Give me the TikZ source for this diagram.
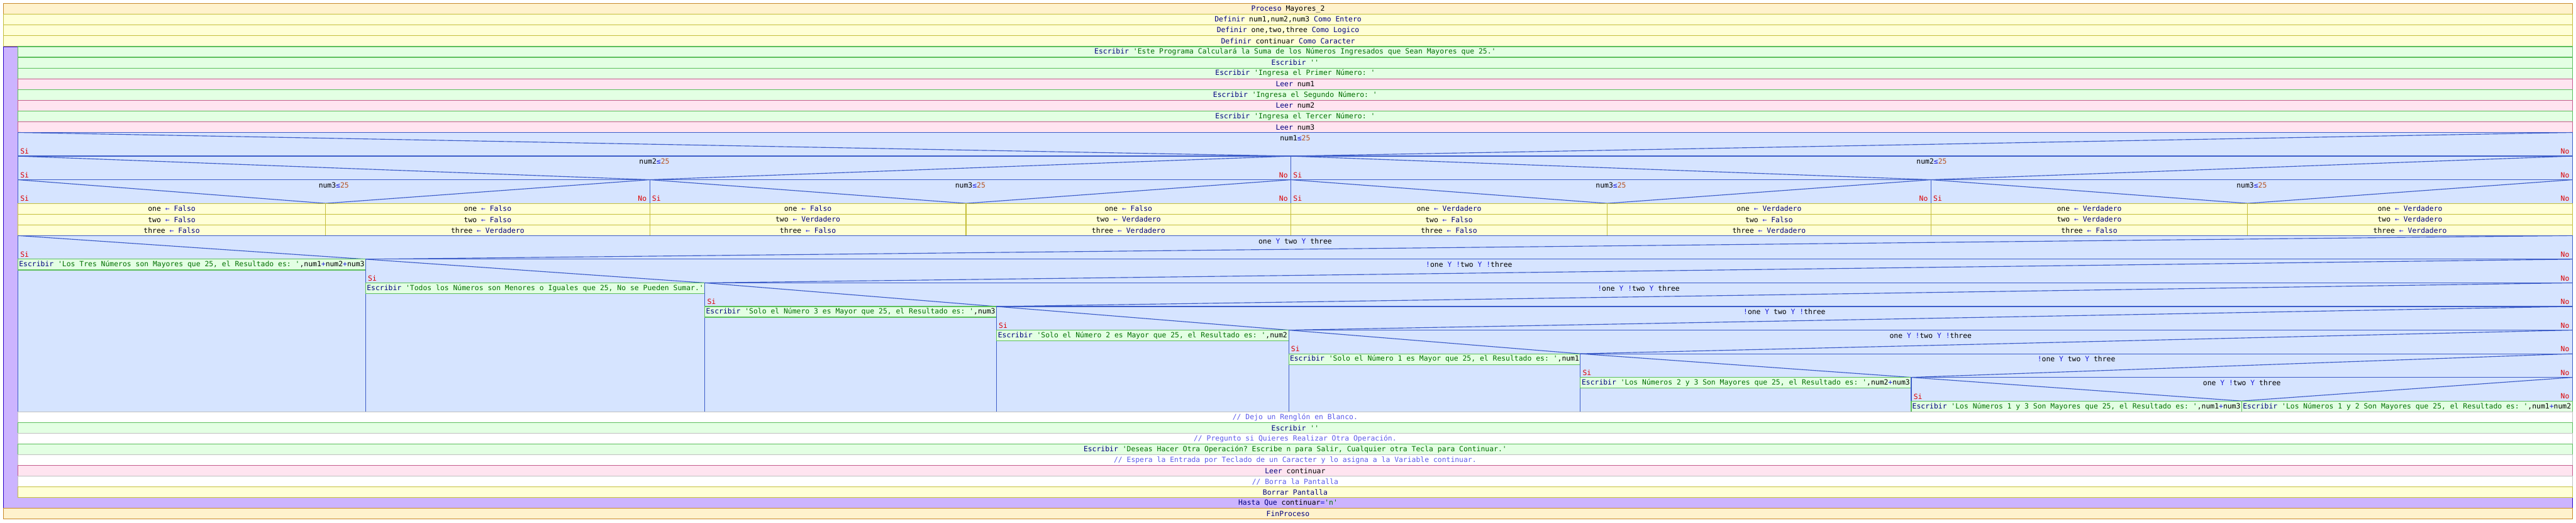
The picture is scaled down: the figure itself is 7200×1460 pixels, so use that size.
\documentclass[tikz,border=0pt]{standalone}
\usepackage{fontspec}
\setmonofont{DejaVu Sans Mono}
\usetikzlibrary{calc}
\definecolor{procfill}{RGB}{255,242,204}
\definecolor{procline}{RGB}{200,136,42}
\definecolor{deffill}{RGB}{255,255,214}
\definecolor{defline}{RGB}{196,190,60}
\definecolor{escfill}{RGB}{227,255,227}
\definecolor{escline}{RGB}{92,190,92}
\definecolor{leefill}{RGB}{255,228,240}
\definecolor{leeline}{RGB}{196,92,140}
\definecolor{condfill}{RGB}{214,228,255}
\definecolor{condline}{RGB}{60,92,200}
\definecolor{repfill}{RGB}{204,180,255}
\definecolor{repline}{RGB}{40,0,200}
\definecolor{commline}{RGB}{192,192,192}
\definecolor{kwcol}{RGB}{0,0,128}
\definecolor{strcol}{RGB}{0,110,0}
\definecolor{numcol}{RGB}{180,80,30}
\definecolor{opcol}{RGB}{30,30,220}
\definecolor{commcol}{RGB}{90,90,235}
\definecolor{sinocol}{RGB}{220,0,0}
\newcommand\pk[1]{\textcolor{kwcol}{#1}}
\newcommand\ps[1]{\textcolor{strcol}{#1}}
\newcommand\pn[1]{\textcolor{numcol}{#1}}
\newcommand\po[1]{\textcolor{opcol}{#1}}
\newcommand\pc[1]{\textcolor{commcol}{#1}}
\tikzset{
  nstext/.style={font=\ttfamily\fontsize{5.7}{7}\selectfont, inner sep=0pt},
  proc/.style={fill=procfill, draw=procline, line width=0.57pt},
  defi/.style={fill=deffill, draw=defline, line width=0.57pt},
  esc/.style={fill=escfill, draw=escline, line width=0.57pt},
  lee/.style={fill=leefill, draw=leeline, line width=0.57pt},
  comm/.style={fill=white, draw=commline, line width=0.57pt},
  cond/.style={fill=condfill, draw=condline, line width=0.57pt},
  diag/.style={draw=condline, line width=0.57pt},
  branchline/.style={draw=condline, line width=0.3pt},
  repite/.style={fill=repfill, draw=repline, line width=0.3pt},
  sino/.style={nstext, text=sinocol}
}
% box: style, x1, y1, x2, y2, text, name
\newcommand\nsbox[7]{%
  \draw[#1] (#2,#3) rectangle (#4,#5);
  \node[nstext] (#7) at ({(#2+#4)/2},{(#3+#5)/2}) {#6};}
% if block: name, left, split, right, top, bottom, condition
\newcommand\nsif[7]{%
  \draw[cond] (#2,#5) rectangle (#4,#6);
  \draw[diag] (#2,#5+66) -- (#4,#5+66);
  \draw[diag] (#2,#5) -- (#3,#5+66) -- (#4,#5);
  \draw[branchline] (#3,#5+66) -- (#3,#6);
  \node[nstext] (#1) at ({(#2+#4)/2},#5+15) {#7};
  \node[sino, anchor=west] (#1si) at (#2+6,#5+53) {Si};
  \node[sino, anchor=east] (#1no) at (#4-8,#5+53) {No};}

\begin{document}
\begin{tikzpicture}[x=0.01cm, y=-0.01cm]
\useasboundingbox (0,0) rectangle (7200,1460);
\nsbox{proc}{10}{10}{7190}{40}{\pk{Proceso} Mayores\_2}{proceso}
\nsbox{defi}{10}{40}{7190}{70}{\pk{Definir} num1,num2,num3 \pk{Como Entero}}{defnum}
\nsbox{defi}{10}{70}{7190}{100}{\pk{Definir} one,two,three \pk{Como Logico}}{deflog}
\nsbox{defi}{10}{100}{7190}{130}{\pk{Definir} continuar \pk{Como Caracter}}{defcar}
\draw[repite] (10,130) -- (50,130) -- (50,1390) -- (7190,1390) -- (7190,1420) -- (10,1420) -- cycle;

\nsbox{esc}{50}{130}{7190}{160}{\pk{Escribir} \ps{'Este Programa Calculará la Suma de los Números Ingresados que Sean Mayores que 25.'}}{intro}
\nsbox{esc}{50}{160}{7190}{190}{\pk{Escribir} \ps{''}}{blankA}
\nsbox{esc}{50}{190}{7190}{220}{\pk{Escribir} \ps{'Ingresa el Primer Número: '}}{askA}
\nsbox{lee}{50}{220}{7190}{250}{\pk{Leer} num1}{readA}
\nsbox{esc}{50}{250}{7190}{280}{\pk{Escribir} \ps{'Ingresa el Segundo Número: '}}{askB}
\nsbox{lee}{50}{280}{7190}{310}{\pk{Leer} num2}{readB}
\nsbox{esc}{50}{310}{7190}{340}{\pk{Escribir} \ps{'Ingresa el Tercer Número: '}}{askC}
\nsbox{lee}{50}{340}{7190}{370}{\pk{Leer} num3}{readC}

\nsif{numA}{50}{3608}{7190}{370}{658}{num1\po{≤}\pn{25}}
\nsif{numB}{50}{1816}{3608}{436}{658}{num2\po{≤}\pn{25}}
\nsif{numC}{3608}{5397}{7190}{436}{658}{num2\po{≤}\pn{25}}
\nsif{numD}{50}{910}{1816}{502}{658}{num3\po{≤}\pn{25}}
\nsif{numE}{1816}{2700}{3608}{502}{658}{num3\po{≤}\pn{25}}
\nsif{numF}{3608}{4492}{5397}{502}{658}{num3\po{≤}\pn{25}}
\nsif{numG}{5397}{6282}{7190}{502}{658}{num3\po{≤}\pn{25}}
\foreach \xa/\xb/\va/\vb/\vc [count=\i] in {50/910/Falso/Falso/Falso, 910/1816/Falso/Falso/Verdadero, 1816/2700/Falso/Verdadero/Falso, 2700/3608/Falso/Verdadero/Verdadero, 3608/4492/Verdadero/Falso/Falso, 4492/5397/Verdadero/Falso/Verdadero, 5397/6282/Verdadero/Verdadero/Falso, 6282/7190/Verdadero/Verdadero/Verdadero}{
  \nsbox{defi}{\xa}{568}{\xb}{598}{one \po{←} \pk{\va}}{one\i}
  \nsbox{defi}{\xa}{598}{\xb}{628}{two \po{←} \pk{\vb}}{two\i}
  \nsbox{defi}{\xa}{628}{\xb}{658}{three \po{←} \pk{\vc}}{three\i}
}

\nsif{chkA}{50}{1022}{7190}{658}{1150}{one \po{Y} two \po{Y} three}
\nsbox{esc}{50}{724}{1022}{754}{\pk{Escribir} \ps{'Los Tres Números son Mayores que 25, el Resultado es: '},num1\po{+}num2\po{+}num3}{resA}
\nsif{chkB}{1022}{1970}{7190}{724}{1150}{\po{!}one \po{Y} \po{!}two \po{Y} \po{!}three}
\nsbox{esc}{1022}{790}{1970}{820}{\pk{Escribir} \ps{'Todos los Números son Menores o Iguales que 25, No se Pueden Sumar.'}}{resB}
\nsif{chkC}{1970}{2785}{7190}{790}{1150}{\po{!}one \po{Y} \po{!}two \po{Y} three}
\nsbox{esc}{1970}{856}{2785}{886}{\pk{Escribir} \ps{'Solo el Número 3 es Mayor que 25, el Resultado es: '},num3}{resC}
\nsif{chkD}{2785}{3602}{7190}{856}{1150}{\po{!}one \po{Y} two \po{Y} \po{!}three}
\nsbox{esc}{2785}{922}{3602}{952}{\pk{Escribir} \ps{'Solo el Número 2 es Mayor que 25, el Resultado es: '},num2}{resD}
\nsif{chkE}{3602}{4417}{7190}{922}{1150}{one \po{Y} \po{!}two \po{Y} \po{!}three}
\nsbox{esc}{3602}{988}{4417}{1018}{\pk{Escribir} \ps{'Solo el Número 1 es Mayor que 25, el Resultado es: '},num1}{resE}
\nsif{chkF}{4417}{5342}{7190}{988}{1150}{\po{!}one \po{Y} two \po{Y} three}
\nsbox{esc}{4417}{1054}{5342}{1084}{\pk{Escribir} \ps{'Los Números 2 y 3 Son Mayores que 25, el Resultado es: '},num2\po{+}num3}{resF}
\nsif{chkG}{5342}{6265}{7190}{1054}{1150}{one \po{Y} \po{!}two \po{Y} three}
\nsbox{esc}{5342}{1120}{6265}{1150}{\pk{Escribir} \ps{'Los Números 1 y 3 Son Mayores que 25, el Resultado es: '},num1\po{+}num3}{resG}
\nsbox{esc}{6265}{1120}{7190}{1150}{\pk{Escribir} \ps{'Los Números 1 y 2 Son Mayores que 25, el Resultado es: '},num1\po{+}num2}{resH}

\nsbox{comm}{50}{1150}{7190}{1180}{\pc{// Dejo un Renglón en Blanco.}}{commA}
\nsbox{esc}{50}{1180}{7190}{1210}{\pk{Escribir} \ps{''}}{blankB}
\nsbox{comm}{50}{1210}{7190}{1240}{\pc{// Pregunto si Quieres Realizar Otra Operación.}}{commB}
\nsbox{esc}{50}{1240}{7190}{1270}{\pk{Escribir} \ps{'Deseas Hacer Otra Operación? Escribe n para Salir, Cualquier otra Tecla para Continuar.'}}{askD}
\nsbox{comm}{50}{1270}{7190}{1300}{\pc{// Espera la Entrada por Teclado de un Caracter y lo asigna a la Variable continuar.}}{commC}
\nsbox{lee}{50}{1300}{7190}{1330}{\pk{Leer} continuar}{readD}
\nsbox{comm}{50}{1330}{7190}{1360}{\pc{// Borra la Pantalla}}{commD}
\nsbox{defi}{50}{1360}{7190}{1390}{\pk{Borrar Pantalla}}{borrar}
\node[nstext] (hasta) at (3600,1405) {\pk{Hasta Que} continuar\po{=}\ps{'n'}};
\nsbox{proc}{10}{1420}{7190}{1450}{\pk{FinProceso}}{fin}
\end{tikzpicture}
\end{document}
